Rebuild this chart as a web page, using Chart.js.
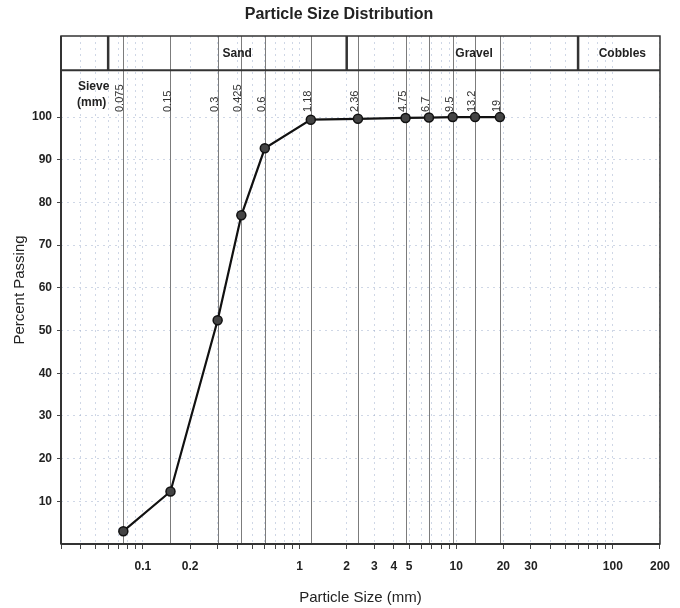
<!DOCTYPE html>
<html>
<head>
<meta charset="utf-8">
<script src="https://cdn.jsdelivr.net/npm/chart.js@4.4.0/dist/chart.umd.min.js"></script>
<style>
  html, body { margin: 0; padding: 0; background: #fff; }
  #wrap { width: 680px; height: 608px; }
</style>
</head>
<body>
<div id="wrap"><canvas id="psd"></canvas></div>
<script>
// sieve sizes (mm) and percent passing
const sieveSizes = [0.075, 0.15, 0.3, 0.425, 0.6, 1.18, 2.36, 4.75, 6.7, 9.5, 13.2, 19];
const percentPassing = [3.0, 12.3, 52.4, 77.0, 92.7, 99.4, 99.6, 99.8, 99.9, 100, 100, 100];

const xTickLabels = [0.1, 0.2, 1, 2, 3, 4, 5, 10, 20, 30, 100, 200];
const yTickValues = [10, 20, 30, 40, 50, 60, 70, 80, 90, 100];

// soil classes in the header band
const classNames = ['Sand', 'Gravel', 'Cobbles'];
const classBounds = [0.06, 2, 60];
const classLabelAt = [0.4, 13, 115];

const X_MIN = 0.03, X_MAX = 200;
const Y_MAX = 119, HEADER_Y = 111;

// minor log ticks 1..9 per decade
const minorTicks = [];
for (let e = -2; e <= 2; e++) {
  for (let n = 1; n <= 9; n++) {
    const v = +(n * Math.pow(10, e)).toPrecision(2);
    if (v >= X_MIN && v <= X_MAX) minorTicks.push(v);
  }
}

const FONT = "'Liberation Sans', Arial, sans-serif";
const INK = '#222';

const gradationPlugin = {
  id: 'gradation',
  beforeDatasetsDraw(chart) {
    const { ctx, chartArea: a, scales: { x, y } } = chart;
    const hy = y.getPixelForValue(HEADER_Y);
    ctx.save();
    ctx.setLineDash([]);

    // sieve lines
    ctx.strokeStyle = '#7c7c7c';
    ctx.lineWidth = 1;
    sieveSizes.forEach(s => {
      const px = Math.round(x.getPixelForValue(s)) + 0.5;
      ctx.beginPath();
      ctx.moveTo(px, a.top);
      ctx.lineTo(px, a.bottom);
      ctx.stroke();
    });

    // frame
    ctx.strokeStyle = '#333';
    ctx.lineWidth = 1.5;
    ctx.strokeRect(a.left, a.top, a.right - a.left, a.bottom - a.top);
    ctx.lineWidth = 2;
    ctx.beginPath();
    ctx.moveTo(a.left, a.bottom); ctx.lineTo(a.right, a.bottom);
    ctx.moveTo(a.left, a.top); ctx.lineTo(a.left, a.bottom);
    ctx.moveTo(a.left, hy); ctx.lineTo(a.right, hy);
    ctx.stroke();

    // class dividers
    ctx.lineWidth = 2.5;
    classBounds.forEach(b => {
      const px = x.getPixelForValue(b);
      ctx.beginPath();
      ctx.moveTo(px, a.top);
      ctx.lineTo(px, hy);
      ctx.stroke();
    });

    // class labels
    ctx.fillStyle = INK;
    ctx.font = 'bold 12px ' + FONT;
    ctx.textAlign = 'center';
    ctx.textBaseline = 'middle';
    classNames.forEach((n, i) => {
      ctx.fillText(n, x.getPixelForValue(classLabelAt[i]), (a.top + hy) / 2 + 1);
    });

    // sieve labels
    ctx.fillStyle = '#333';
    ctx.font = '11px ' + FONT;
    ctx.textAlign = 'left';
    ctx.textBaseline = 'middle';
    sieveSizes.forEach(s => {
      const px = x.getPixelForValue(s);
      ctx.save();
      ctx.translate(px - 3, 112);
      ctx.rotate(-Math.PI / 2);
      ctx.fillText(String(s), 0, 0);
      ctx.restore();
    });

    // "Sieve (mm)"
    ctx.fillStyle = INK;
    ctx.font = 'bold 12px ' + FONT;
    ctx.textAlign = 'left';
    ctx.fillText('Sieve', 78, 87);
    ctx.fillText('(mm)', 77, 103);

    // title
    ctx.font = 'bold 16px ' + FONT;
    ctx.textAlign = 'center';
    ctx.fillText('Particle Size Distribution', 339, 15);
    ctx.restore();
  }
};

new Chart(document.getElementById('psd'), {
  type: 'line',
  data: {
    datasets: [{
      data: sieveSizes.map((s, i) => ({ x: s, y: percentPassing[i] })),
      borderColor: '#111',
      borderWidth: 2.2,
      backgroundColor: '#444',
      pointBackgroundColor: '#444',
      pointBorderColor: '#111',
      pointBorderWidth: 1.5,
      pointRadius: 4.5,
      tension: 0,
      fill: false,
    }],
  },
  options: {
    responsive: true,
    maintainAspectRatio: false,
    animation: false,
    layout: { padding: { top: 36, right: 20, left: 0, bottom: 0 } },
    plugins: {
      legend: { display: false },
      tooltip: { enabled: false },
    },
    scales: {
      x: {
        type: 'logarithmic',
        min: X_MIN,
        max: X_MAX,
        afterBuildTicks: scale => { scale.ticks = minorTicks.map(v => ({ value: v })); },
        afterFit: scale => { scale.height = 64; },
        ticks: {
          autoSkip: false,
          maxRotation: 0,
          padding: 10,
          color: INK,
          font: { family: FONT, size: 12, weight: 'bold' },
          callback: v => (xTickLabels.includes(v) ? String(v) : ''),
        },
        grid: {
          color: 'rgba(160,175,205,0.5)',
          tickColor: '#444',
          tickLength: 5,
          tickBorderDash: [],
        },
        border: { display: false, dash: [2, 4] },
        title: {
          display: true,
          text: 'Particle Size (mm)',
          color: INK,
          font: { family: FONT, size: 15 },
          padding: { top: 0, bottom: 1 },
        },
      },
      y: {
        min: 0,
        max: Y_MAX,
        afterBuildTicks: scale => { scale.ticks = yTickValues.map(v => ({ value: v })); },
        afterFit: scale => { scale.width = 61; },
        ticks: {
          padding: 5,
          color: INK,
          font: { family: FONT, size: 12, weight: 'bold' },
        },
        grid: {
          color: 'rgba(160,175,205,0.5)',
          tickColor: '#444',
          tickLength: 4,
          tickBorderDash: [],
        },
        border: { display: false, dash: [2, 4] },
        title: {
          display: true,
          text: 'Percent Passing',
          color: INK,
          font: { family: FONT, size: 15 },
          padding: { top: 11, bottom: 0 },
        },
      },
    },
  },
  plugins: [gradationPlugin],
});
</script>
</body>
</html>
